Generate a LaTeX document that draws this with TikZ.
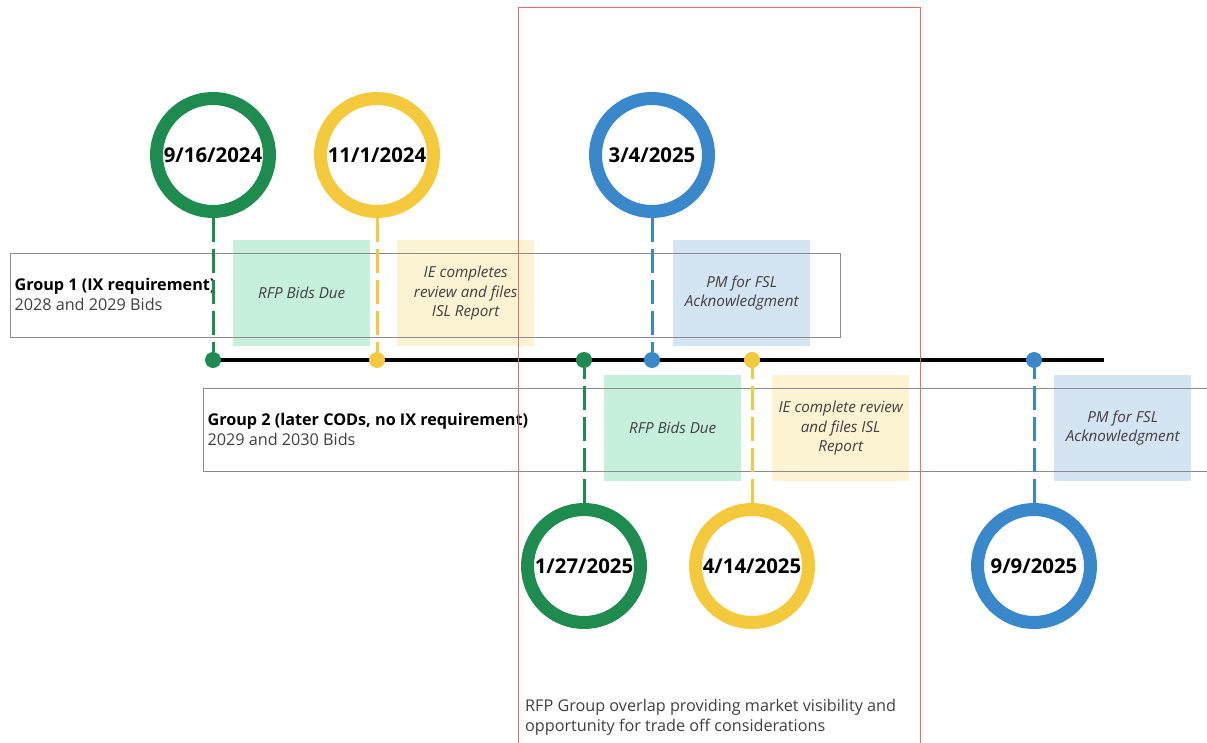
\documentclass[tikz,border=0pt]{standalone}
\usepackage{fontspec}
\setmainfont{Open Sans}
\begin{document}
\begin{tikzpicture}[x=1pt,y=-1pt]
\definecolor{cgreen}{HTML}{1E8B4F}
\definecolor{cyellow}{HTML}{F4C93C}
\definecolor{cblue}{HTML}{3A88CC}
\definecolor{fgreen}{HTML}{C6F0DC}
\definecolor{fyellow}{HTML}{FCF3D2}
\definecolor{fblue}{HTML}{D5E4F2}
\definecolor{cframe}{HTML}{E07070}
\definecolor{cgray}{HTML}{8C8C8C}
\definecolor{ctext}{HTML}{404040}
\tikzset{
  ring/.style={circle,draw=#1,line width=13pt,fill=white,minimum size=113pt,inner sep=0pt,font=\fontsize{20.4}{24}\selectfont\bfseries},
  tdot/.style={circle,fill=#1,inner sep=0pt,minimum size=16pt},
  conn/.style={draw=#1,line width=3pt,dash pattern=on 24pt off 7pt},
  groupbox/.style={draw=cgray,line width=1pt,anchor=north west,inner sep=0pt},
  notebox/.style={fill=#1,anchor=north west,minimum width=137pt,minimum height=106pt,inner sep=0pt},
  notetext/.style={text=ctext,font=\fontsize{15.2}{19.5}\selectfont\itshape,align=center},
  grouptext/.style={anchor=west,align=left,font=\fontsize{16.2}{20}\selectfont,text=black}
}
\useasboundingbox (0,0) rectangle (1207,743);
% colored note boxes
\node[notebox=fgreen] (n1) at (233,240) {};
\node[notebox=fyellow] (n2) at (397,240) {};
\node[notebox=fblue] (n3) at (673,240) {};
\node[notebox=fgreen] (n4) at (604,375) {};
\node[notebox=fyellow] (n5) at (772,375) {};
\node[notebox=fblue] (n6) at (1054,375) {};
\node[notetext] at (n1.center) {RFP Bids Due};
\node[notetext] at (n2.center) {IE completes\\review and files\\ISL Report};
\node[notetext] at (n3.center) {PM for FSL\\Acknowledgment};
\node[notetext] at (n4.center) {RFP Bids Due};
\node[notetext] at (n5.center) {IE complete review\\and files ISL\\Report};
\node[notetext] at (n6.center) {PM for FSL\\Acknowledgment};
% group boxes
\node[groupbox,minimum width=830pt,minimum height=84pt] (g1) at (10,253) {};
\node[groupbox,minimum width=1020pt,minimum height=83pt] (g2) at (203,388) {};
\node[grouptext] (g1t) at (11,294) {\textbf{Group 1 (IX requirement)}\\\textcolor{ctext}{2028 and 2029 Bids}};
\node[grouptext] (g2t) at (204,429) {\textbf{Group 2 (later CODs, no IX requirement)}\\\textcolor{ctext}{2029 and 2030 Bids}};
% timeline
\coordinate (t0) at (213,360);
\coordinate (t1) at (1104,360);
\draw[line width=3.5pt,black] (t0) -- (t1);
% rings
\node[ring=cgreen] (c1) at (213,155) {9/16/2024};
\node[ring=cyellow] (c2) at (377,155) {11/1/2024};
\node[ring=cblue] (c3) at (652,155) {3/4/2025};
\node[ring=cgreen] (c4) at (584,566) {1/27/2025};
\node[ring=cyellow] (c5) at (752,566) {4/14/2025};
\node[ring=cblue] (c6) at (1034,566) {9/9/2025};
% dots
\node[tdot=cgreen] (d1) at (213,360) {};
\node[tdot=cyellow] (d2) at (377,360) {};
\node[tdot=cgreen] (d4) at (584,360) {};
\node[tdot=cblue] (d3) at (652,360) {};
\node[tdot=cyellow] (d5) at (752,360) {};
\node[tdot=cblue] (d6) at (1034,360) {};
% connectors
\draw[conn=cgreen] (c1) -- (d1);
\draw[conn=cyellow] (c2) -- (d2);
\draw[conn=cblue] (c3) -- (d3);
\draw[conn=cgreen] (c4) -- (d4);
\draw[conn=cyellow] (c5) -- (d5);
\draw[conn=cblue] (c6) -- (d6);
% overlap frame
\coordinate (f0) at (518,8);
\coordinate (f1) at (920,760);
\draw[cframe,line width=1pt] (f0) rectangle (f1);
\node[anchor=north west,align=left,inner sep=0pt,text=ctext,font=\fontsize{16.2}{20}\selectfont] (ft) at (525,699) {RFP Group overlap providing market visibility and\\opportunity for trade off considerations};
\end{tikzpicture}
\end{document}
